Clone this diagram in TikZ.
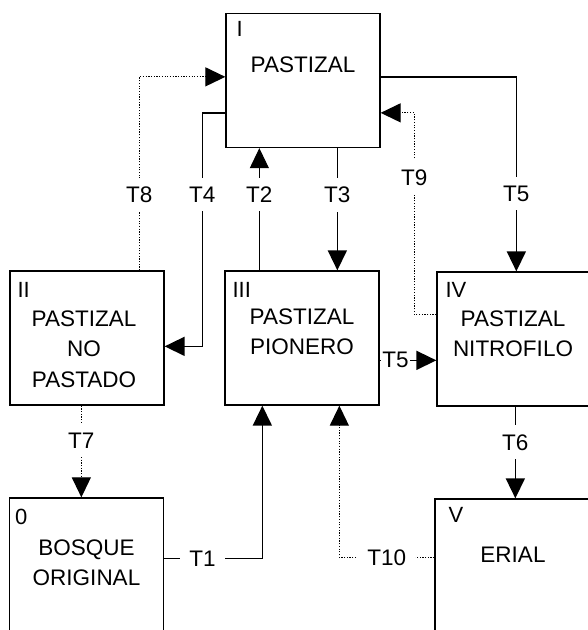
\documentclass[tikz,border=0pt]{standalone}
\usepackage{fontspec}
\setmainfont{Liberation Sans}
\usetikzlibrary{arrows.meta,calc,positioning}

\begin{document}
\begin{tikzpicture}[x=1pt, y=-1pt,
    estado/.style={draw, line width=1.3pt, minimum width=154pt, minimum height=134pt, inner sep=0pt},
    texto/.style={anchor=north, align=center, inner sep=0pt, font=\fontsize{22.5}{30.5}\selectfont},
    clase/.style={anchor=north west, inner sep=0pt, font=\fontsize{22}{26}\selectfont},
    flecha/.style={line width=1.6pt, -{Triangle[length=20pt, width=19pt]}},
    punteado/.style={flecha, line width=1.2pt, dash pattern=on 1.2pt off 1.5pt},
    etiqueta/.style={fill=white, inner sep=9pt, font=\fontsize{22.5}{26}\selectfont}]
    \useasboundingbox (0,0) rectangle (588,630);
    \clip (0,0) rectangle (588,630);

    % estados
    \node[estado] (pastizal) at (303,80.5) {};
    \node[estado] (nopastado) at (87,338) {};
    \node[estado] (pionero) at (302,338) {};
    \node[estado, minimum width=152pt] (nitrofilo) at (513,339) {};
    \node[estado] (bosque) at (86.5,565) {};
    \node[estado] (erial) at (512,566) {};

    \node[clase] (pastizal-n) at ($(pastizal.north west)+(11,8)$) {I};
    \node[clase] (nopastado-n) at ($(nopastado.north west)+(8,12)$) {II};
    \node[clase] (pionero-n) at ($(pionero.north west)+(8,12)$) {III};
    \node[clase] (nitrofilo-n) at ($(nitrofilo.north west)+(9,11)$) {IV};
    \node[clase] (bosque-n) at ($(bosque.north west)+(6,12)$) {0};
    \node[clase] (erial-n) at ($(erial.north west)+(14,9)$) {V};

    \node[texto] (pastizal-t) at ($(pastizal.north)+(0,44)$) {PASTIZAL};
    \node[texto] (nopastado-t) at ($(nopastado.north)+(-3,40)$) {PASTIZAL\\NO\\PASTADO};
    \node[texto] (pionero-t) at ($(pionero.north)+(0,38)$) {PASTIZAL\\PIONERO};
    \node[texto] (nitrofilo-t) at ($(nitrofilo.north)+(0,39)$) {PASTIZAL\\NITROFILO};
    \node[texto] (bosque-t) at ($(bosque.north)+(0,42)$) {BOSQUE\\ORIGINAL};
    \node[texto] (erial-t) at ($(erial.north)+(1,48)$) {ERIAL};

    % transiciones
    \draw[punteado] ($(nopastado.north west)+(130,0)$) |- node[etiqueta, pos=0.196] (t8) {T8} ($(pastizal.north west)+(0,64)$);
    \draw[flecha] ($(pastizal.north west)+(0,100)$) -- ++(-23,0) |- node[etiqueta, pos=0.175] (t4) {T4} ($(nopastado.north east)+(0,76)$);
    \draw[flecha, line width=1pt] ($(pionero.north west)+(35,0)$) -- node[etiqueta, pos=0.62] (t2) {T2} ($(pastizal.south west)+(34,0)$);
    \draw[flecha] ($(pastizal.south west)+(112,0)$) -- node[etiqueta, pos=0.38] (t3) {T3} ($(pionero.north west)+(113,0)$);
    \draw[punteado] ($(nitrofilo.north west)+(0,43)$) -- ++(-22,0) |- node[etiqueta, pos=0.34] (t9) {T9} ($(pastizal.north east)+(0,100)$);
    \draw[flecha] ($(pastizal.north east)+(0,64)$) -| node[etiqueta, pos=0.8] (t5a) {T5} ($(nitrofilo.north west)+(80,0)$);
    \draw[flecha] ($(pionero.north east)+(0,90)$) -- node[etiqueta, inner sep=1pt, pos=0.28] (t5b) {T5} ($(nitrofilo.north west)+(0,89)$);
    \draw[punteado] ($(nopastado.south west)+(72,0)$) -- node[etiqueta, pos=0.38] (t7) {T7} ($(bosque.north west)+(72.5,0)$);
    \draw[flecha] ($(nitrofilo.south west)+(79,0)$) -- node[etiqueta, pos=0.39] (t6) {T6} ($(erial.north west)+(81,0)$);
    \draw[flecha] ($(bosque.north east)+(0,61)$) -| node[etiqueta, pos=0.195] (t1) {T1} ($(pionero.south west)+(38,0)$);
    \draw[punteado] ($(erial.north west)+(0,59)$) -| node[etiqueta, pos=0.25] (t10) {T10} ($(pionero.south west)+(115,0)$);
\end{tikzpicture}
\end{document}
